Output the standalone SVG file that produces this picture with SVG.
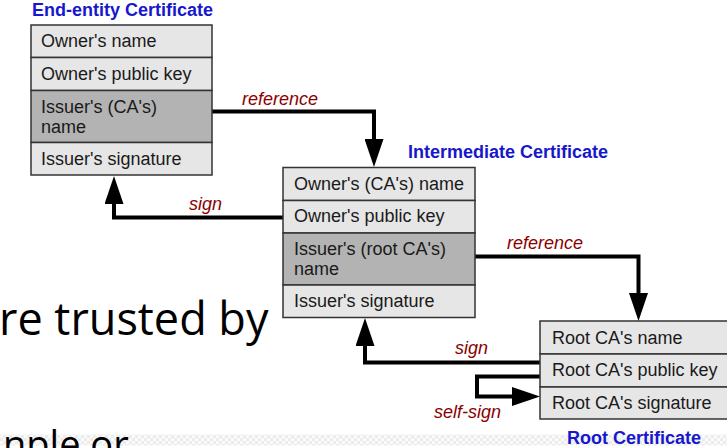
<svg xmlns="http://www.w3.org/2000/svg" width="727" height="448" viewBox="0 0 727 448">
<style>
.bg{font-family:"Open Sans","Noto Sans",sans-serif;fill:#000}
.title{font-family:"Liberation Sans",Arial,sans-serif;font-weight:bold;font-size:18px;fill:#1717cc}
.row{font-family:"Liberation Sans",Arial,sans-serif;font-size:18px;fill:#1a1a1a}
.lbl{font-family:"Liberation Sans",Arial,sans-serif;font-style:italic;font-size:18px;fill:#8b0000}
.light{fill:#e6e6e6;stroke:#333;stroke-width:1.5}
.dark{fill:#b3b3b3;stroke:#333;stroke-width:1.5}
.conn{fill:none;stroke:#000;stroke-width:4;stroke-linejoin:miter;marker-end:url(#ah)}
</style>
<defs>
<marker id="ah" markerUnits="userSpaceOnUse" markerWidth="28" markerHeight="19" viewBox="0 0 28 19" refX="0" refY="9.5" orient="auto">
<path d="M0,0 L28,9.5 L0,19 Z" fill="#000"/>
</marker>
<pattern id="chk" width="6" height="6" patternUnits="userSpaceOnUse">
<rect width="6" height="6" fill="#fafafa"/>
<rect width="3" height="3" fill="#ececec"/>
<rect x="3" y="3" width="3" height="3" fill="#ececec"/>
</pattern>
</defs>
<rect width="727" height="448" fill="#fff"/>
<rect x="0" y="434.5" width="727" height="11" fill="url(#chk)"/>
<g id="background-text">
<text class="bg" x="-1" y="335" font-size="45">re trusted by</text>
<text class="bg" x="3" y="458" font-size="38">nple or</text>
</g>
<g id="connectors">
<path class="conn" d="M212,111.5 H374 V139"/>
<path class="conn" d="M283,217.5 H114 V204"/>
<path class="conn" d="M475,256.5 H638.5 V293"/>
<path class="conn" d="M540,362.5 H365 V346"/>
<path class="conn" d="M540,376.5 H477 V396.5 H512"/>
<text class="lbl" x="242" y="105">reference</text>
<text class="lbl" x="189" y="210">sign</text>
<text class="lbl" x="507" y="249">reference</text>
<text class="lbl" x="455" y="354">sign</text>
<text class="lbl" x="434" y="418">self-sign</text>
</g>
<g id="end-entity">
<text class="title" x="32" y="15.5">End-entity Certificate</text>
<rect class="light" x="31" y="25" width="181" height="32.5"/>
<rect class="light" x="31" y="57.5" width="181" height="33"/>
<rect class="dark" x="31" y="90.5" width="181" height="52"/>
<rect class="light" x="31" y="142.5" width="181" height="32.5"/>
<text class="row" x="41" y="47">Owner's name</text>
<text class="row" x="41" y="80">Owner's public key</text>
<text class="row" x="41" y="112.5">Issuer's (CA's)</text>
<text class="row" x="41" y="132.5">name</text>
<text class="row" x="41" y="165">Issuer's signature</text>
</g>
<g id="intermediate">
<text class="title" x="408" y="158">Intermediate Certificate</text>
<rect class="light" x="283" y="167.5" width="192" height="33"/>
<rect class="light" x="283" y="200.5" width="192" height="32.5"/>
<rect class="dark" x="283" y="233" width="192" height="52"/>
<rect class="light" x="283" y="285" width="192" height="32.5"/>
<text class="row" x="294" y="189.5">Owner's (CA's) name</text>
<text class="row" x="294" y="222">Owner's public key</text>
<text class="row" x="294" y="255">Issuer's (root CA's)</text>
<text class="row" x="294" y="275">name</text>
<text class="row" x="294" y="307">Issuer's signature</text>
</g>
<g id="root">
<rect class="light" x="540" y="321" width="195" height="33"/>
<rect class="light" x="540" y="354" width="195" height="33"/>
<rect class="light" x="540" y="387" width="195" height="32"/>
<text class="row" x="552" y="343.5">Root CA's name</text>
<text class="row" x="552" y="376">Root CA's public key</text>
<text class="row" x="552" y="409">Root CA's signature</text>
<text class="title" x="567" y="443.5">Root Certificate</text>
</g>
</svg>
